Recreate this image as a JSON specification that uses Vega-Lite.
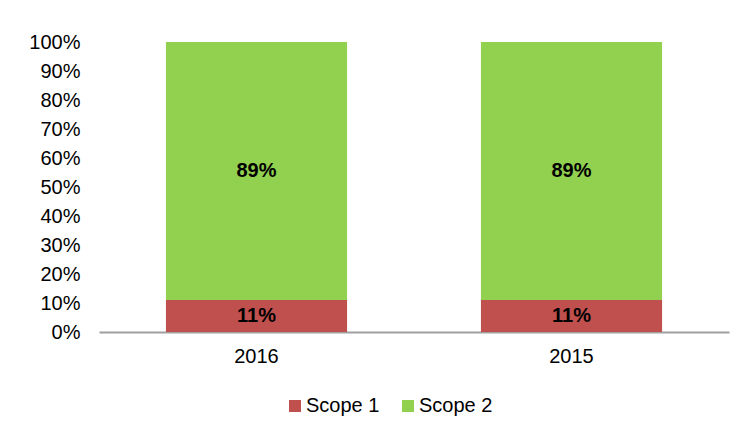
{
  "$schema": "https://vega.github.io/schema/vega-lite/v6.json",
  "autosize": {"type": "none"},
  "width": 630,
  "height": 290,
  "padding": {"left": 99, "top": 42, "right": 18, "bottom": 98},
  "background": "white",
  "config": {
    "view": {"stroke": null},
    "font": "Liberation Sans",
    "axis": {"labelFont": "Liberation Sans", "labelFontSize": 20, "labelColor": "#000000", "grid": false, "ticks": false, "title": null, "labelOverlap": false}
  },
  "data": {
    "values": [
      {"year": "2016", "scope": "Scope 1", "share": 0.11, "order": 1},
      {"year": "2016", "scope": "Scope 2", "share": 0.89, "order": 2},
      {"year": "2015", "scope": "Scope 1", "share": 0.11, "order": 1},
      {"year": "2015", "scope": "Scope 2", "share": 0.89, "order": 2}
    ]
  },
  "transform": [
    {"stack": "share", "groupby": ["year"], "sort": [{"field": "order"}], "as": ["y0", "y1"]},
    {"calculate": "(datum.y0 + datum.y1) / 2", "as": "ymid"}
  ],
  "encoding": {
    "x": {
      "field": "year", "type": "nominal", "sort": ["2016", "2015"],
      "scale": {"paddingInner": 0.425, "paddingOuter": 0.2125},
      "axis": {"labelAngle": 0, "domainColor": "#a0a0a0", "domainWidth": 2, "labelPadding": 14}
    }
  },
  "layer": [
    {
      "mark": {"type": "bar"},
      "encoding": {
        "y": {"field": "y0", "type": "quantitative",
          "scale": {"domain": [0, 1]},
          "axis": {"values": [0, 0.1, 0.2, 0.3, 0.4, 0.5, 0.6, 0.7, 0.8, 0.9, 1], "format": ".0%", "domain": false, "labelPadding": 19, "labelOverlap": false, "labelBound": false}},
        "y2": {"field": "y1"},
        "color": {
          "field": "scope", "type": "nominal",
          "scale": {"domain": ["Scope 1", "Scope 2"], "range": ["#C0504D", "#92D050"]},
          "legend": {
            "title": null, "orient": "none", "direction": "horizontal",
            "legendX": 186, "legendY": 354,
            "symbolType": "square", "symbolSize": 144, "symbolStrokeWidth": 0,
            "labelFontSize": 20, "labelFont": "Liberation Sans", "labelColor": "#000000",
            "labelOffset": 1, "columnPadding": 18
          }
        }
      }
    },
    {
      "mark": {"type": "text", "fontSize": 20, "fontWeight": "bold", "color": "#000000", "baseline": "middle"},
      "encoding": {
        "y": {"field": "ymid", "type": "quantitative",
          "scale": {"domain": [0, 1]},
          "axis": {"values": [0, 0.1, 0.2, 0.3, 0.4, 0.5, 0.6, 0.7, 0.8, 0.9, 1], "format": ".0%", "domain": false, "labelPadding": 19, "labelOverlap": false, "labelBound": false}},
        "text": {"field": "share", "type": "quantitative", "format": ".0%"}
      }
    }
  ]
}
